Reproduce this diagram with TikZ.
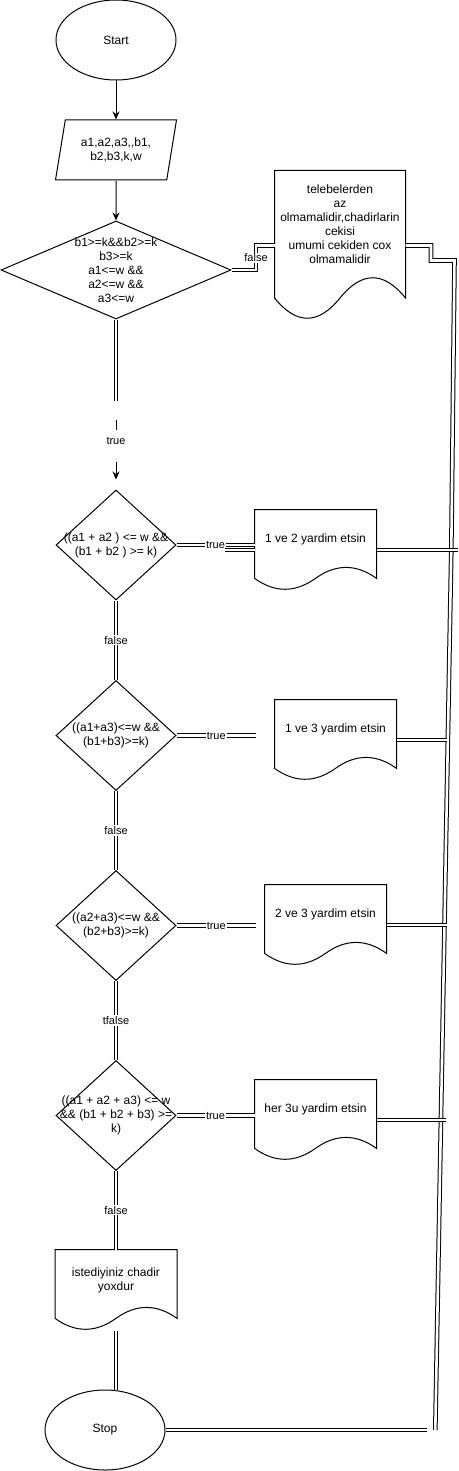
\documentclass[tikz,border=0pt]{standalone}
\usepackage{fontspec}
\setmainfont{Liberation Sans}
\usetikzlibrary{calc,shapes.geometric,arrows.meta}
\def\docshape(#1){\draw[line width=1pt] let \p1=(#1.north west), \p2=(#1.south east), \n1={\x2-\x1}, \n2={\y1-\y2} in
	(\p1) -- (\x2,\y1) -- (\x2,{\y1-0.85*\n2})
	.. controls ({\x1+0.833*\n1},{\y1-0.67*\n2}) and ({\x1+0.667*\n1},{\y1-0.67*\n2}) .. ({\x1+0.5*\n1},{\y1-0.85*\n2})
	.. controls ({\x1+0.333*\n1},{\y1-1.03*\n2}) and ({\x1+0.167*\n1},{\y1-1.03*\n2}) .. (\x1,{\y1-0.85*\n2}) -- cycle;}
\tikzset{
	base/.style={draw, line width=1pt, inner sep=0pt, align=center, font=\fontsize{12}{14}\selectfont},
	term/.style={base, ellipse, minimum width=120pt, minimum height=80pt},
	io/.style={base, trapezium, trapezium left angle=68, trapezium right angle=112, trapezium stretches body, minimum width=121pt, minimum height=60pt},
	cond/.style={base, diamond, minimum width=120pt, minimum height=110pt},
	doc/.style={base, draw=none, minimum width=121pt, minimum height=80pt},
	ctext/.style={align=center, inner sep=0pt, font=\fontsize{12}{14}\selectfont},
	link/.style={line width=1pt, double, double distance=2.6pt},
	flow/.style={line width=1pt, -{Stealth[length=8pt,width=7pt]}},
	lbl/.style={fill=white, inner sep=1pt, font=\fontsize{11}{13}\selectfont},
}
\begin{document}
\begin{tikzpicture}[x=1pt, y=-1pt]
	\useasboundingbox (0,0) rectangle (458,1471);
	
	%%%%% SHAPES %%%%%
	\node[term] (start) at (116,40) {Start};
	\node[io] (input) at (116,150) {a1,a2,a3,\kern0pt,b1,\\ b2,b3,k,w};
	\node[cond, minimum width=230pt, minimum height=98pt, label={[ctext]center:{b1>=k\&\&b2>=k\\b3>=k\\a1<=w \&\&\\a2<=w \&\&\\a3<=w}}] (c1) at (116,270) {};
	\node[doc, minimum width=130pt, minimum height=149pt, label={[ctext,yshift=21pt]center:{telebelerden\\az\\olmamalidir,chadirlarin\\cekisi\\umumi cekiden cox\\olmamalidir}}] (warn) at (340,245.5) {};
	
	\node[cond, label={[ctext]center:{((a1 + a2 ) <= w \&\&\\(b1 + b2 ) >= k)}}] (c2) at (116,545) {};
	\node[cond, label={[ctext]center:{((a1+a3)<=w \&\&\\(b1+b3)>=k)}}] (c3) at (116,735.5) {};
	\node[cond, label={[ctext]center:{((a2+a3)<=w \&\&\\(b2+b3)>=k)}}] (c4) at (116,925.5) {};
	\node[cond, label={[ctext]center:{((a1 + a2 + a3) <= w\\\&\& (b1 + b2 + b3) >=\\k)}}] (c5) at (116,1115.5) {};
	
	\node[doc, label={[ctext,yshift=11pt]center:{1 ve 2 yardim etsin}}] (d12) at (315.5,550) {};
	\node[doc, label={[ctext,yshift=11pt]center:{1 ve 3 yardim etsin}}] (d13) at (335.5,740) {};
	\node[doc, label={[ctext,yshift=11pt]center:{2 ve 3 yardim etsin}}] (d23) at (325.5,925) {};
	\node[doc, label={[ctext,yshift=11pt]center:{her 3u yardim etsin}}] (d123) at (315.5,1120) {};
	\node[doc, label={[ctext,yshift=10pt]center:{istediyiniz chadir\\yoxdur}}] (none) at (116,1290) {};
	
	\node[term] (stop) at (105,1430) {Stop};
	
	\foreach \d in {warn,d12,d13,d23,d123,none} {\docshape(\d)}
	
	%%%%% LINKS %%%%%
	\coordinate (cut1) at (116,401);
	\coordinate (cut2) at (116,420);
	\coordinate (busA) at (454.5,260.5);
	\coordinate (busB) at (451.3,550);
	\coordinate (busC) at (435.3,1430);
	
	\draw[flow] (start) -- (input);
	\draw[flow] (input) -- (input |- c1.north);
	\draw[link] (c1.south) -- (cut1);
	\draw[flow] (cut2) -- node[lbl, anchor=base, pos=0.42, text height=14pt, text depth=16pt] {true} ([yshift=10pt]c2.north);
	\draw[link] (c1.east) -- ++(24.5,0) |- node[lbl, pos=0.25] {false} (warn.west);
	\draw[link] (warn.east) -- ++(25.5,0) |- (busA) -- (busB) -- (busC);
	
	\draw[link] (c2.east) -- node[lbl] {true} (c2.east -| d12.west);
	\draw[link] ([xshift=-30pt]d12.west) -- (d12.west);
	\draw[link] (c3.east) -- node[lbl] {true} ++(79.5,0);
	\draw[link] (c4.east) -- node[lbl] {true} ++(79.5,0);
	\draw[link] (c5.east) -- node[lbl] {true} (c5.east -| d123.west);
	
	\draw[link] (c2.south) -- node[lbl] {false} (c3.north);
	\draw[link] (c3.south) -- node[lbl] {false} (c4.north);
	\draw[link] (c4.south) -- node[lbl] {tfalse} (c5.north);
	\draw[link] (c5.south) -- node[lbl] {false} (none.north);
	\draw[link] (none.south) -- (none.south |- stop.north);
	
	\draw[link] (d12.east) -- ++(81,0);
	\draw[link] (d13.east) -- ++(50,0);
	\draw[link] (d23.east) -- ++(60,0);
	\draw[link] (d123.east) -- ++(69,0);
	\draw[link] (stop.east) -- ++(261,0);
	
\end{tikzpicture}
\end{document}
